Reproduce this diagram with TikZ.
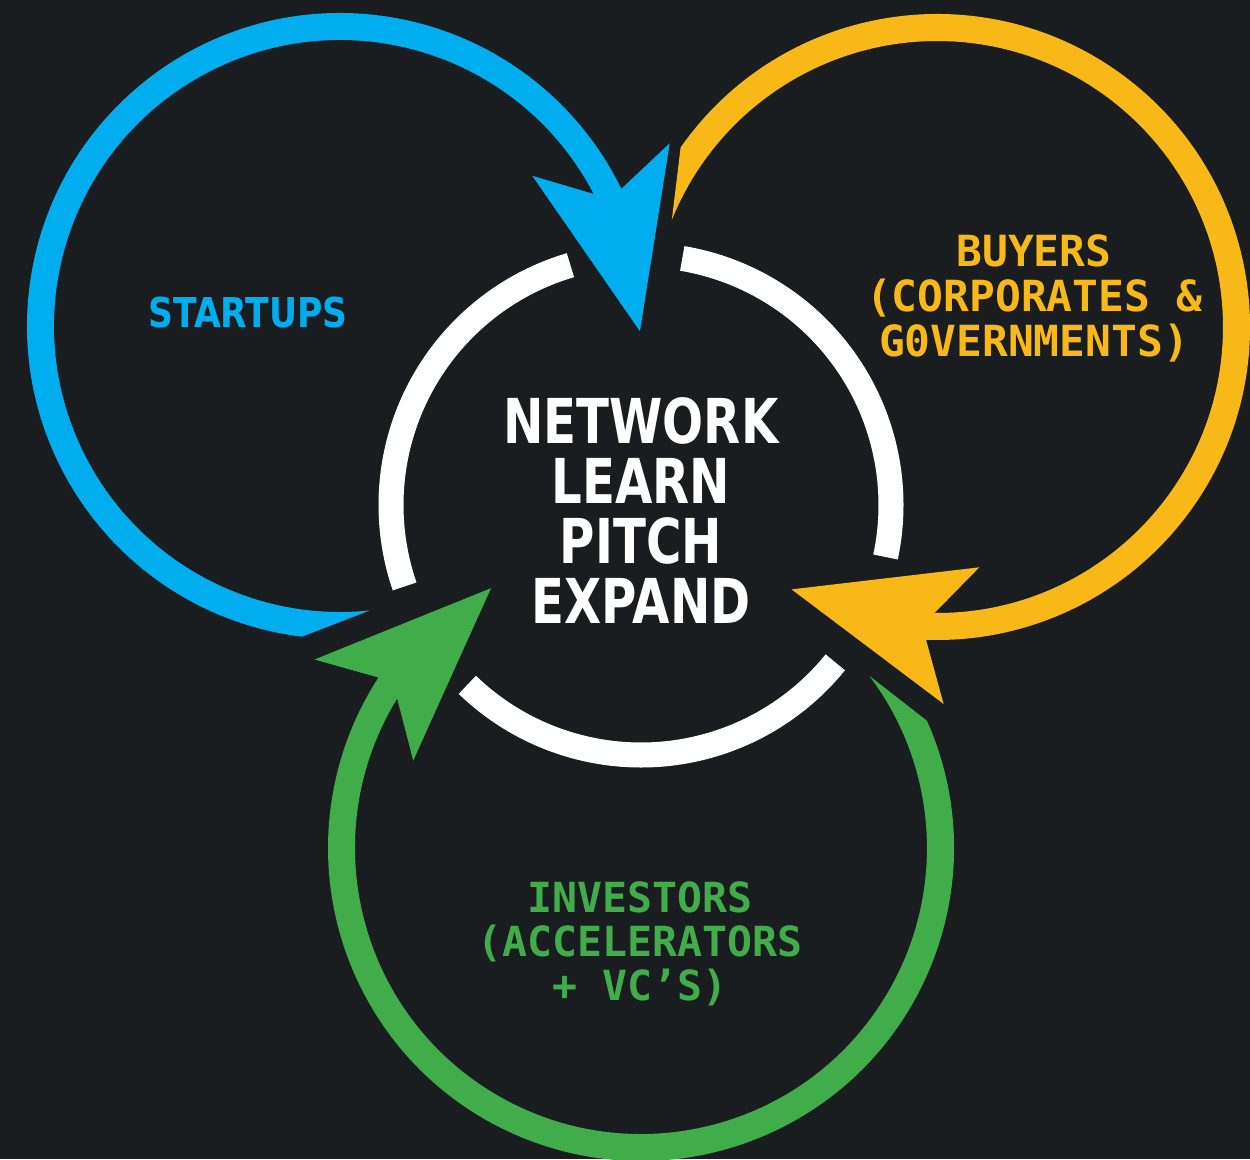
\documentclass[tikz,border=0pt]{standalone}
\usepackage{fontspec}
\usetikzlibrary{calc}
\usepackage{xcolor}
\newfontfamily\hubfont{DejaVu Sans}[FakeStretch=0.78]
\newfontfamily\tagfont{DejaVu Sans}[FakeStretch=0.84]
\newfontfamily\labelmono{DejaVu Sans Mono}
\definecolor{bgdark}{HTML}{1A1D20}
\definecolor{startblue}{HTML}{00AEEF}
\definecolor{buyyellow}{HTML}{F8B817}
\definecolor{investgreen}{HTML}{40AD4A}
\lineskiplimit=-20pt

\begin{document}
\begin{tikzpicture}[x=0.01cm, y=0.01cm]
\fill[bgdark] (0,0) rectangle (1250,1159);
\useasboundingbox (0,0) rectangle (1250,1159);
% white ring, three pieces
\foreach \a/\b in {106.4/199, 226/321, 348/440.5}
  \draw[white, line width=0.25cm] (641,654) ++(\a:250) arc[start angle=\a, end angle=\b, radius=250];
% the three loops with their heads
\foreach \cx/\cy/\e/\col in {340/833/27/startblue, 937/832/-91/buyyellow, 641/311/148/investgreen}{
  \begin{scope}[shift={(\cx,\cy)}]
  \fill[\col] ({\e+236}:313) arc[start angle={\e+236}, end angle={\e-1}, radius=313]
    -- ({\e+2}:377) -- ({\e-28}:300) -- ({\e+11}:244) -- ({\e+0.5}:286)
    arc[start angle={\e+0.5}, end angle={\e+249}, radius=286] -- cycle;
  \end{scope}
}
\node[white, font=\hubfont\bfseries\fontsize{17.6}{17.07}\selectfont, align=center, anchor=north, inner sep=0] (hub) at (641,762) {NETWORK\\LEARN\\PITCH\\EXPAND};
\node[startblue, font=\tagfont\bfseries\fontsize{11.7}{14}\selectfont, anchor=base, inner sep=0] (startups) at (248,832) {STARTUPS};
\node[buyyellow, font=\labelmono\bfseries\fontsize{12.2}{12.8}\selectfont, align=center, anchor=north, inner sep=0] (buyers) at (1034,925) {BUYERS\\(CORPORATES \&\\G0VERNMENTS)};
\node[investgreen, font=\labelmono\bfseries\fontsize{11.8}{12.5}\selectfont, align=center, anchor=north, inner sep=0] (investors) at (640,278) {INVESTORS\\(ACCELERATORS\\+ VC’S)};
\end{tikzpicture}
\end{document}
